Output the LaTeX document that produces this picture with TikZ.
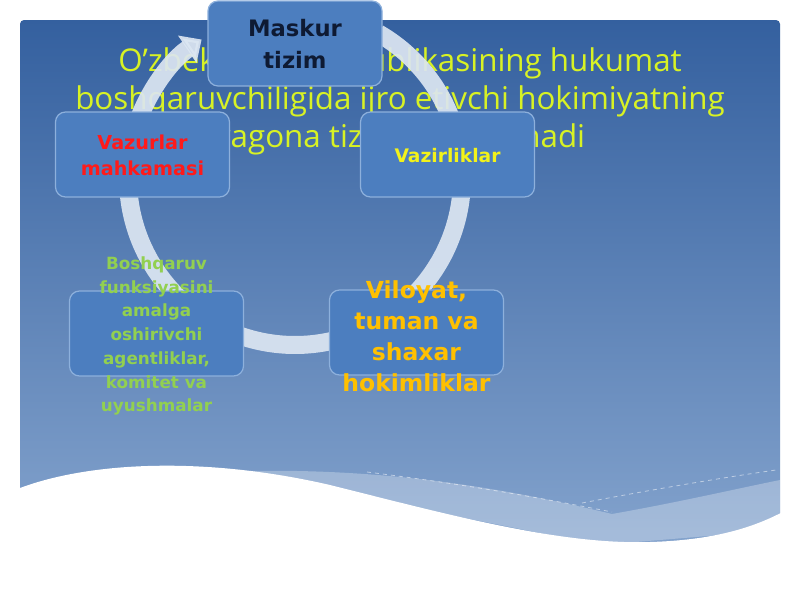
\documentclass[tikz,border=0pt]{standalone}
\usepackage{fontspec}
\setmainfont{Open Sans}
\newfontfamily\boxfont{DejaVu Sans}
\usetikzlibrary{arrows.meta}
\definecolor{bgtop}{HTML}{34609F}
\definecolor{bgbot}{HTML}{87A6CF}
\definecolor{boxfill}{HTML}{4C7EBF}
\definecolor{boxline}{HTML}{8DB0DC}
\definecolor{ringcol}{HTML}{DCE6F2}
\definecolor{titlecol}{HTML}{D8F224}
\definecolor{navy}{HTML}{0E1A33}
\definecolor{goldtxt}{HTML}{FFC000}
\definecolor{limetxt}{HTML}{92D050}
\definecolor{yeltxt}{HTML}{F2F21A}
\definecolor{redtxt}{HTML}{FF1A1A}
\begin{document}
\begin{tikzpicture}[x=0.75pt,y=-0.75pt,
  cyclebox/.style={draw=boxline, line width=0.9pt, fill=boxfill, rounded corners=7.5pt,
    minimum width=130.5pt, minimum height=63.75pt, inner sep=0pt},
  boxtext/.style={align=center, inner sep=0pt},
  ring/.style={draw=ringcol, line width=13.5pt, opacity=0.92},
]
\useasboundingbox (0,0) rectangle (800,600);
\fill[white] (0,0) rectangle (800,600);
% slide background
\shade[top color=bgtop, bottom color=bgbot, rounded corners=3pt] (20,20) rectangle (780,570);
% lighter band near the wave
\fill[white, opacity=0.28] (245,471) .. controls (400,468) and (520,492) .. (612,514)
  .. controls (680,502) and (740,488) .. (780,480) -- (780,530) -- (600,545) -- (400,505) -- cycle;
\draw[white, opacity=0.5, dashed, line width=0.6pt] (367,472) .. controls (470,485) and (540,498) .. (612,512);
\draw[white, opacity=0.5, dashed, line width=0.6pt] (582,503) .. controls (650,490) and (720,478) .. (776,470);
% white wave
\fill[white] (10,492) .. controls (80,462) and (200,455) .. (330,485)
  .. controls (450,515) and (560,545) .. (650,542)
  .. controls (720,540) and (760,525) .. (790,508) -- (790,600) -- (10,600) -- cycle;
% title
\node[titlecol, align=center, inner sep=0pt, font=\fontsize{23.5}{28.5}\selectfont] (title) at (400,101)
  {O’zbekiston Respublikasining hukumat\\boshqaruvchiligida ijro etivchi hokimiyatning\\yagona tizimi hisoblanadi};
% cycle ring
\coordinate (c) at (295,178);
\draw[ring, -{Triangle[width=24pt,length=13pt]}] ([shift={(160:125.25pt)}]c) arc[start angle=160, end angle=124, radius=125.25pt];
\draw[ring] ([shift={(60:125.25pt)}]c) arc[start angle=60, end angle=15, radius=125.25pt];
\draw[ring] ([shift={(-2:125.25pt)}]c) arc[start angle=-2, end angle=-50, radius=125.25pt];
\draw[ring] ([shift={(-76:125.25pt)}]c) arc[start angle=-76, end angle=-112, radius=125.25pt];
\draw[ring] ([shift={(-130:125.25pt)}]c) arc[start angle=-130, end angle=-180, radius=125.25pt];
% boxes
\node[cyclebox] (maskur) at (295,43.5) {};
\node[cyclebox] (vazir) at (447.5,154.5) {};
\node[cyclebox] (viloyat) at (416.5,332.5) {};
\node[cyclebox] (bosh) at (156.5,333.5) {};
\node[cyclebox] (vazur) at (142.5,154.5) {};
% box texts
\node[boxtext, navy, font=\boxfont\bfseries\fontsize{17}{24}\selectfont] (maskurT) at (295,44) {Maskur\\tizim};
\node[boxtext, yeltxt, font=\boxfont\bfseries\fontsize{14}{19.5}\selectfont] (vazirT) at (447.5,156) {Vazirliklar};
\node[boxtext, redtxt, font=\boxfont\bfseries\fontsize{14.4}{19.5}\selectfont] (vazurT) at (142.5,155) {Vazurlar\\mahkamasi};
\node[boxtext, goldtxt, font=\boxfont\bfseries\fontsize{17.6}{23.25}\selectfont] (viloyatT) at (416.5,336) {Viloyat,\\tuman va\\shaxar\\hokimliklar};
\node[boxtext, limetxt, font=\boxfont\bfseries\fontsize{12.6}{17.8}\selectfont] (boshT) at (156.5,336) {Boshqaruv\\funksiyasini\\amalga\\oshirivchi\\agentliklar,\\komitet va\\uyushmalar};
\end{tikzpicture}
\end{document}
